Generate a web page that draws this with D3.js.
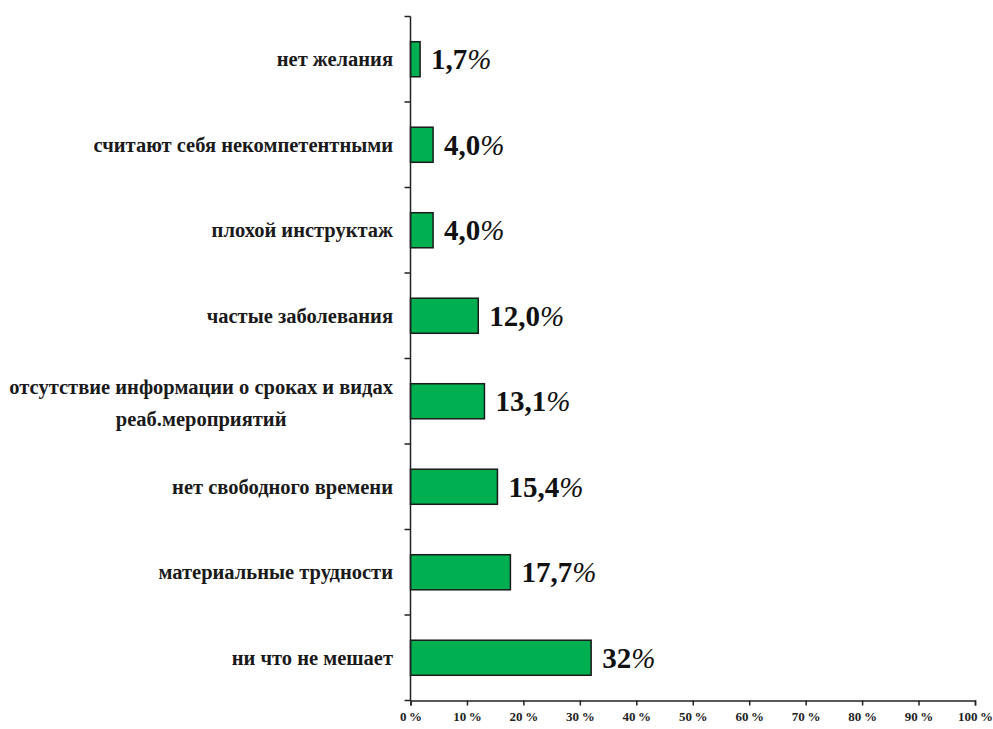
<!DOCTYPE html>
<html><head><meta charset="utf-8">
<script src="https://cdn.jsdelivr.net/npm/d3@7"></script>
<style>body{margin:0;background:#fff}svg{display:block}</style>
</head><body>
<svg id="c" width="993" height="729"></svg>
<script>
const categories = [
  "нет желания",
  "считают себя некомпетентными",
  "плохой инструктаж",
  "частые заболевания",
  "отсутствие информации о сроках и видах|реаб.мероприятий",
  "нет свободного времени",
  "материальные трудности",
  "ни что не мешает"
];
const values = [1.7, 4.0, 4.0, 12.0, 13.1, 15.4, 17.7, 32];
const valueLabels = ["1,7", "4,0", "4,0", "12,0", "13,1", "15,4", "17,7", "32"];
const xTicks = [0,10,20,30,40,50,60,70,80,90,100];

const svg = d3.select("#c");
const font = "'Liberation Serif','Times New Roman',serif";
const x = d3.scaleLinear().domain([0,100]).range([410.5, 975]);
const y = d3.scaleBand().domain(categories).range([16.5, 700.5]).paddingInner(0.59).paddingOuter(0.295);

// bars
svg.selectAll("rect.bar").data(values).join("rect")
  .attr("class","bar")
  .attr("x", x(0))
  .attr("y", (d,i)=>y(categories[i]))
  .attr("width", d=>x(d)-x(0))
  .attr("height", y.bandwidth())
  .attr("fill","#00B050")
  .attr("stroke","#1a1a1a").attr("stroke-width",1.5);

// y axis
const yBand = d3.scaleLinear().domain([0,8]).range([16.5,700.5]);
svg.append("line").attr("x1",x(0)).attr("x2",x(0)).attr("y1",16.5).attr("y2",700.5)
  .attr("stroke","#222").attr("stroke-width",1.5);
svg.selectAll("line.yt").data(d3.range(9)).join("line").attr("class","yt")
  .attr("x1",x(0)-6).attr("x2",x(0)).attr("y1",d=>yBand(d)).attr("y2",d=>yBand(d))
  .attr("stroke","#222").attr("stroke-width",1.5);

// x axis
const xAxis = d3.axisBottom(x).tickValues(xTicks).tickSize(5).tickFormat(d=>d+"\u2009%");
const gx = svg.append("g").attr("transform",`translate(0,${yBand(8)})`).call(xAxis);
gx.select(".domain").attr("stroke","#222").attr("stroke-width",1.5);
gx.selectAll(".tick line").attr("stroke","#222").attr("stroke-width",1.5);
gx.selectAll(".tick text").attr("font-family",font).attr("font-weight","bold")
  .attr("font-size",13).attr("fill","#222").attr("y",9).attr("dy","0.9em");

// category labels
const catSize = 20.5;
categories.forEach((c,i)=>{
  const cy = y(c)+y.bandwidth()/2;
  const lines = c.split("|");
  const t = svg.append("text").attr("font-family",font).attr("font-weight","bold")
    .attr("font-size",catSize).attr("fill","#1a1a1a");
  if(lines.length===1){
    t.attr("x",393).attr("y",cy).attr("dy","0.35em").attr("text-anchor","end").text(lines[0]);
  } else {
    t.attr("text-anchor","end").attr("x",393).attr("y",cy-14).attr("dy","0.35em").text(lines[0]);
    const w = t.node().getComputedTextLength();
    svg.append("text").attr("font-family",font).attr("font-weight","bold")
      .attr("font-size",catSize).attr("fill","#1a1a1a").attr("text-anchor","middle")
      .attr("x",393-w/2).attr("y",cy+18).attr("dy","0.35em").text(lines[1]);
  }
});

// value labels
values.forEach((v,i)=>{
  const cy = y(categories[i])+y.bandwidth()/2;
  const t = svg.append("text").attr("font-family",font).attr("font-weight","bold")
    .attr("font-size",29).attr("fill","#111")
    .attr("x",x(v)+11).attr("y",cy).attr("dy","0.35em");
  t.append("tspan").text(valueLabels[i]);
  t.append("tspan").attr("font-weight","normal").attr("font-style","italic").text("%");
});
</script>
</body></html>
